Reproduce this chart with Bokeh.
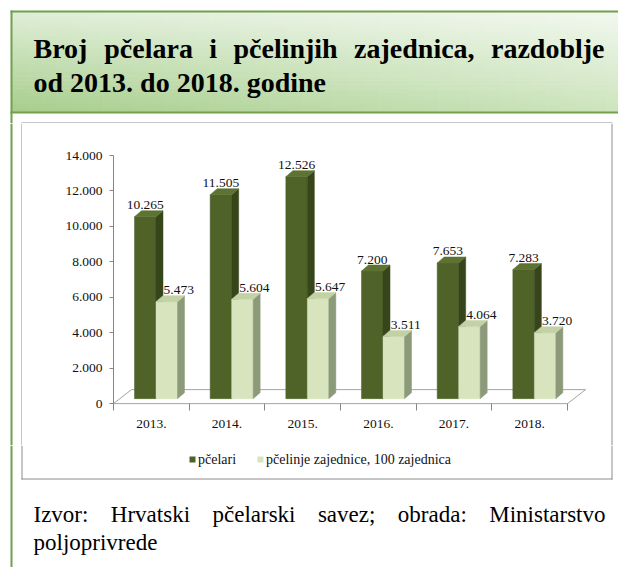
from bokeh.plotting import figure
from bokeh.layouts import column, row
from bokeh.models import (Range1d, FixedTicker, ColumnDataSource, LabelSet, Label)
from bokeh.embed import file_html
from bokeh.resources import INLINE

# ---------------------------------------------------------------- data
years = ["2013.", "2014.", "2015.", "2016.", "2017.", "2018."]
pcelari = [10265, 11505, 12526, 7200, 7653, 7283]
zajednice = [5473, 5604, 5647, 3511, 4064, 3720]          # in hundreds of colonies
series_names = ["pčelari", "pčelinje zajednice, 100 zajednica"]
y_ticks = [0, 2000, 4000, 6000, 8000, 10000, 12000, 14000]
y_tick_labels = ["0", "2.000", "4.000", "6.000", "8.000", "10.000", "12.000", "14.000"]
title_lines = ["Broj pčelara i pčelinjih zajednica, razdoblje",
               "od 2013. do 2018. godine"]
source_lines = ["Izvor: Hrvatski pčelarski savez; obrada: Ministarstvo",
                "poljoprivrede"]

# ---------------------------------------------------------------- page geometry
W, H = 618, 567
HEADER_H, MID_H = 123, 322
FOOT_H = H - HEADER_H - MID_H
LEFT_W, RIGHT_W = 22, 8
CHART_W = W - LEFT_W - RIGHT_W
FRAME_L, FRAME_R, FRAME_T, FRAME_B = 113, 586, 155, 405     # plot area, page pixels
CAT_PX = 75.67                      # width of one year slot in pixels
Y_MIN, Y_MAX = -105, 14000

SERIF = "Liberation Serif, serif"
GREEN_LINE = "#71a04a"
BOX_GRAY = "#8e8e8e"
DARK = ("#4f6228", "#37451b", "#5d7332")      # front, side, top
LIGHT = ("#d7e4bd", "#8c9a7a", "#c2d2a4")
BOX_L, BOX_R, BOX_T, BOX_B = 21, 611, 122, 478


def deco_fig(x0, y0, w, h):
    """A plain canvas whose data coordinates are page pixels (y grows downward)."""
    f = figure(width=w, height=h, output_backend="svg", toolbar_location=None,
               x_range=Range1d(x0, x0 + w), y_range=Range1d(y0 + h, y0),
               x_axis_location=None, y_axis_location=None, min_border=0,
               frame_align=False)
    f.outline_line_color = None
    f.grid.visible = False
    f.background_fill_color = "white"
    f.border_fill_color = "white"
    return f


def rect(f, l, r, t, b, color):
    f.quad(left=l, right=r, top=t, bottom=b, fill_color=color, line_color=None)


# ---------------------------------------------------------------- chart
p = figure(width=CHART_W, height=MID_H, output_backend="svg", toolbar_location=None,
           x_range=Range1d(0, (FRAME_R - FRAME_L) / CAT_PX),
           y_range=Range1d(Y_MIN, Y_MAX),
           min_border_left=FRAME_L - LEFT_W,
           min_border_right=(LEFT_W + CHART_W) - FRAME_R,
           min_border_top=FRAME_T - HEADER_H,
           min_border_bottom=(HEADER_H + MID_H) - FRAME_B,
           frame_align=False)
p.outline_line_color = None
p.grid.visible = False
p.background_fill_color = "white"
p.border_fill_color = "white"

ppy = (FRAME_B - FRAME_T) / (Y_MAX - Y_MIN)


def px_x(n):
    return n / CAT_PX


def px_y(n):
    return n / ppy


# 3-D floor
FLOOR_DX, FLOOR_DY = 18, 14
n = len(years)
p.patch(x=[0, n, n + px_x(FLOOR_DX), px_x(FLOOR_DX)],
        y=[0, 0, px_y(FLOOR_DY), px_y(FLOOR_DY)],
        fill_color="white", line_color="#a3a3a3", line_width=1)

# 3-D bars: front face, side face, top face
GAP, BAR_W, DEPTH_X, DEPTH_Y, LIFT = 21, 21.5, 7, 6, 5
base = px_y(LIFT)
dx, dy = px_x(DEPTH_X), px_y(DEPTH_Y)


def draw_bars(values, offset_px, colors):
    front, side, top_col = colors
    left = [i + px_x(offset_px) for i in range(len(values))]
    right = [l + px_x(BAR_W) for l in left]
    tops = [base + v for v in values]
    src = ColumnDataSource(dict(left=left, right=right,
                                bottom=[base] * len(values), top=tops))
    p.quad(left="left", right="right", bottom="bottom", top="top", source=src,
           fill_color=front, line_color=front, line_width=0.5)
    p.patches(xs=[[rr, rr + dx, rr + dx, rr] for rr in right],
              ys=[[base, base + dy, t + dy, t] for t in tops],
              fill_color=side, line_color=side, line_width=0.5)
    p.patches(xs=[[l, rr, rr + dx, l + dx] for l, rr in zip(left, right)],
              ys=[[t, t, t + dy, t + dy] for t in tops],
              fill_color=top_col, line_color=top_col, line_width=0.5)
    return left, right, tops


dl, dr, dt = draw_bars(pcelari, GAP, DARK)
ll, lr, lt = draw_bars(zajednice, GAP + BAR_W, LIGHT)


def fmt(v):
    return f"{v:,}".replace(",", ".")


label_style = dict(text_font=SERIF, text_font_size="13.5px", text_color="#111111",
                   text_align="center", text_baseline="alphabetic",
                   y_offset=DEPTH_Y + 1.5)
dark_lab = ColumnDataSource(dict(x=[(a + b) / 2 for a, b in zip(dl, dr)], y=dt,
                                 t=[fmt(v) for v in pcelari]))
light_lab = ColumnDataSource(dict(x=[(a + b) / 2 + px_x(12) for a, b in zip(ll, lr)], y=lt,
                                  t=[fmt(v) for v in zajednice]))
p.add_layout(LabelSet(x="x", y="y", text="t", source=dark_lab, **label_style))
p.add_layout(LabelSet(x="x", y="y", text="t", source=light_lab, **label_style))

# axes
AXIS_GRAY = "#868686"
xa = p.xaxis[0]
xa.ticker = FixedTicker(ticks=[i + 0.5 for i in range(n)], minor_ticks=list(range(n + 1)))
xa.major_label_overrides = {i + 0.5: y for i, y in enumerate(years)}
xa.axis_line_color = None
xa.major_tick_line_color = None
xa.major_tick_out = 0
xa.major_tick_in = 0
xa.minor_tick_line_color = AXIS_GRAY
xa.minor_tick_out = 5
xa.minor_tick_in = 2
xa.major_label_standoff = 9
xa.major_label_text_font = SERIF
xa.major_label_text_font_size = "13.5px"
xa.major_label_text_color = "#111111"

ya = p.yaxis[0]
ya.ticker = FixedTicker(ticks=y_ticks, minor_ticks=[])
ya.major_label_overrides = dict(zip(y_ticks, y_tick_labels))
ya.axis_line_color = AXIS_GRAY
ya.major_tick_line_color = AXIS_GRAY
ya.major_tick_out = 4
ya.major_tick_in = 0
ya.minor_tick_line_color = None
ya.major_label_standoff = 7
ya.major_label_text_font = SERIF
ya.major_label_text_font_size = "13.5px"
ya.major_label_text_color = "#111111"

# ---------------------------------------------------------------- text helpers
REG = dict(a=444, b=500, c=444, d=500, e=444, f=333, g=500, h=500, i=278, j=278, k=500,
           l=278, m=778, n=500, o=500, p=500, r=333, s=389, t=278, u=500, v=500, z=444)
REG.update({"č": 444, "I": 333, "H": 722, "M": 889, "B": 667, ",": 250, ".": 250,
            ":": 278, ";": 278})
BOLD = dict(a=500, b=556, c=444, d=556, e=444, f=333, g=500, h=556, i=278, j=333, k=556,
            l=278, m=833, n=556, o=500, p=556, r=444, s=389, t=333, u=556, v=500, z=444)
BOLD.update({"č": 444, "B": 667, ",": 250, ".": 250})
for d in "0123456789":
    REG[d] = 500
    BOLD[d] = 500


def justified(line, widths, size, x0, x1):
    words = line.split()
    ws = [sum(widths.get(ch, 500) for ch in w) / 1000 * size for w in words]
    gap = (x1 - x0 - sum(ws)) / (len(words) - 1)
    out, x = [], x0
    for w, wd in zip(words, ws):
        out.append((w, x))
        x += wd + gap
    return out


def page_text(f, txt, x, y, size, bold=False, baseline="alphabetic", color="#000000"):
    f.add_layout(Label(x=x, y=y, text=txt,
                       text_font=SERIF, text_font_size=f"{size}px",
                       text_font_style="bold" if bold else "normal",
                       text_color=color, text_align="left",
                       text_baseline=baseline))


def hex2rgb(h):
    h = h.lstrip("#")
    return [int(h[i:i + 2], 16) for i in (0, 2, 4)]


def rgb2hex(c):
    return "#%02x%02x%02x" % tuple(int(round(v)) for v in c)


# ---------------------------------------------------------------- header
head = deco_fig(0, 0, W, HEADER_H)
TL, TR, BL, BR = map(hex2rgb, ["#e0eed8", "#f2f8ef", "#a6cd8b", "#cde4bd"])
HX0, HX1, HY0, HY1 = 11, 622, 11, 112
NX, NY = 40, 25
gl, gr, gt, gb, gc = [], [], [], [], []
for ix in range(NX):
    for iy in range(NY):
        u, v = (ix + 0.5) / NX, (iy + 0.5) / NY
        c = [(1 - u) * (1 - v) * a + u * (1 - v) * b + (1 - u) * v * cc + u * v * d
             for a, b, cc, d in zip(TL, TR, BL, BR)]
        gl.append(HX0 + (HX1 - HX0) * ix / NX)
        gr.append(HX0 + (HX1 - HX0) * (ix + 1) / NX + 0.6)
        gt.append(HY0 + (HY1 - HY0) * iy / NY)
        gb.append(HY0 + (HY1 - HY0) * (iy + 1) / NY + 0.6)
        gc.append(rgb2hex(c))
head.quad(left=gl, right=gr, top=gt, bottom=gb, fill_color=gc, line_color=None)
rect(head, 10, 622, 10, 12, GREEN_LINE)            # top edge
rect(head, 10, 12, 10, HEADER_H, GREEN_LINE)       # left edge
rect(head, 10, 622, 111, 113, GREEN_LINE)          # under the header
rect(head, BOX_L, BOX_R + 1, BOX_T, BOX_T + 1, BOX_GRAY)   # chart box, top side

TITLE_SIZE = 28
for w, x in justified(title_lines[0], BOLD, TITLE_SIZE, 33, 604):
    page_text(head, w, x, 47.5, TITLE_SIZE, bold=True)
page_text(head, title_lines[1], 33, 81.5, TITLE_SIZE, bold=True)

# ---------------------------------------------------------------- side strips
left_strip = deco_fig(0, HEADER_H, LEFT_W, MID_H)
rect(left_strip, 10, 12, HEADER_H, HEADER_H + MID_H, GREEN_LINE)
rect(left_strip, BOX_L, BOX_L + 1, HEADER_H, HEADER_H + MID_H, BOX_GRAY)

right_strip = deco_fig(LEFT_W + CHART_W, HEADER_H, RIGHT_W, MID_H)
rect(right_strip, BOX_R, BOX_R + 1, HEADER_H, HEADER_H + MID_H, BOX_GRAY)

# ---------------------------------------------------------------- footer
FOOT_Y = HEADER_H + MID_H
foot = deco_fig(0, FOOT_Y, W, FOOT_H)
rect(foot, 10, 12, FOOT_Y, H, GREEN_LINE)
rect(foot, BOX_L, BOX_L + 1, FOOT_Y, BOX_B + 1, BOX_GRAY)
rect(foot, BOX_R, BOX_R + 1, FOOT_Y, BOX_B + 1, BOX_GRAY)
rect(foot, BOX_L, BOX_R + 1, BOX_B, BOX_B + 1, BOX_GRAY)

# legend: colour key squares with their series names
LEG_Y, KEY = 459, 6
key_x = [189, 257]
for kx, name, col in zip(key_x, series_names, [DARK[0], LIGHT[0]]):
    rect(foot, kx, kx + KEY, LEG_Y - KEY / 2, LEG_Y + KEY / 2, col)
    page_text(foot, name, kx + KEY + 2.5, LEG_Y, 14, baseline="middle", color="#111111")

SRC_SIZE = 23
for w, x in justified(source_lines[0], REG, SRC_SIZE, 33, 605):
    page_text(foot, w, x, 514, SRC_SIZE)
page_text(foot, source_lines[1], 33, 542, SRC_SIZE)

layout = column(head, row(left_strip, p, right_strip, spacing=0), foot, spacing=0)
open("out.html", "w").write(file_html(layout, INLINE))
